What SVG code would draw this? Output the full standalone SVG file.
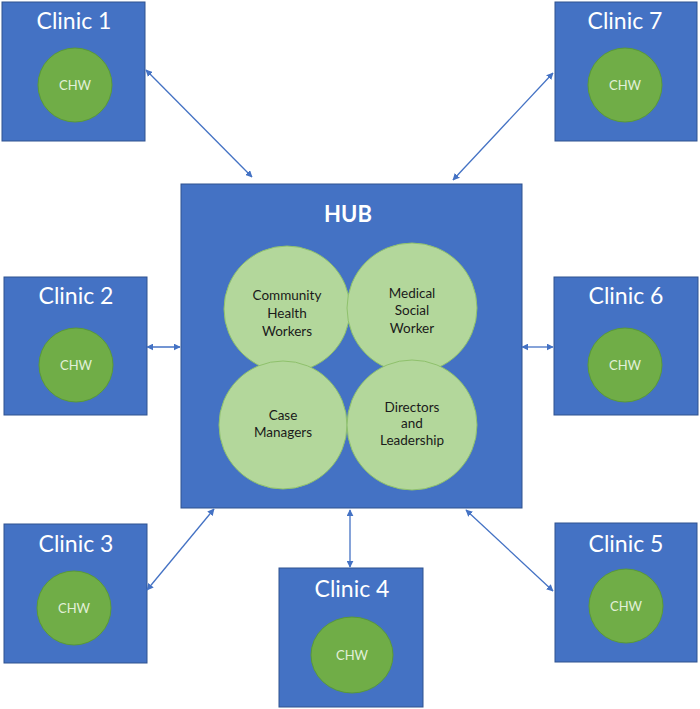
<svg xmlns="http://www.w3.org/2000/svg" width="700" height="709" viewBox="0 0 700 709">
<defs>
<style>
.box{fill:#4472c4;stroke:#2f528f;stroke-width:1}
.chw{fill:#70ad47;stroke:#5a9a37;stroke-width:1}
.hubc{fill:#b3d79b;stroke:#8fc16c;stroke-width:1}
.title{font-family:Lato,"Open Sans",sans-serif;font-size:23px;fill:#ffffff;text-anchor:middle}
.chwt{font-family:Lato,"Open Sans",sans-serif;font-size:13px;fill:#e2f0d9;text-anchor:middle}
.hubt{font-family:Lato,"Open Sans",sans-serif;font-size:22px;font-weight:bold;fill:#ffffff;text-anchor:middle}
.ct{font-family:Lato,"Open Sans",sans-serif;font-size:13.5px;fill:#1a1a1a;text-anchor:middle}
.con{stroke:#4472c4;stroke-width:1.3;fill:none;marker-start:url(#ah);marker-end:url(#ah)}
</style>
<marker id="ah" viewBox="0 0 10 10" refX="9" refY="5" markerWidth="7" markerHeight="7" orient="auto-start-reverse" markerUnits="userSpaceOnUse">
<path d="M0,0 L10,5 L0,10 z" fill="#4472c4"/>
</marker>
</defs>
<rect width="700" height="709" fill="#ffffff"/>
<g id="hub">
<rect class="box" x="181" y="184" width="341" height="324"/>
<text class="hubt" x="348" y="222">HUB</text>
<circle class="hubc" cx="287" cy="309" r="63"/>
<circle class="hubc" cx="412" cy="308" r="65"/>
<circle class="hubc" cx="283" cy="425" r="64"/>
<circle class="hubc" cx="412" cy="425" r="65"/>
<text class="ct" x="287" y="300">Community</text>
<text class="ct" x="287" y="318">Health</text>
<text class="ct" x="287" y="336">Workers</text>
<text class="ct" x="412" y="298">Medical</text>
<text class="ct" x="412" y="315">Social</text>
<text class="ct" x="412" y="333">Worker</text>
<text class="ct" x="283" y="420">Case</text>
<text class="ct" x="283" y="437">Managers</text>
<text class="ct" x="412" y="412">Directors</text>
<text class="ct" x="412" y="428">and</text>
<text class="ct" x="412" y="445">Leadership</text>
</g>
<g id="clinic1">
<rect class="box" x="2" y="2" width="143" height="139"/>
<text class="title" x="74" y="29">Clinic 1</text>
<circle class="chw" cx="75" cy="85" r="37"/>
<text class="chwt" x="75" y="90">CHW</text>
</g>
<g id="clinic2">
<rect class="box" x="4" y="277" width="143" height="138"/>
<text class="title" x="76" y="304">Clinic 2</text>
<circle class="chw" cx="76" cy="365" r="37"/>
<text class="chwt" x="76" y="370">CHW</text>
</g>
<g id="clinic3">
<rect class="box" x="4" y="524" width="143" height="139"/>
<text class="title" x="76" y="552">Clinic 3</text>
<circle class="chw" cx="74" cy="608" r="37"/>
<text class="chwt" x="74" y="613">CHW</text>
</g>
<g id="clinic4">
<rect class="box" x="279" y="568" width="144" height="139"/>
<text class="title" x="352" y="597">Clinic 4</text>
<ellipse class="chw" cx="352" cy="655" rx="41" ry="38"/>
<text class="chwt" x="352" y="660">CHW</text>
</g>
<g id="clinic5">
<rect class="box" x="555" y="523" width="142" height="139"/>
<text class="title" x="626" y="552">Clinic 5</text>
<circle class="chw" cx="626" cy="606" r="37"/>
<text class="chwt" x="626" y="611">CHW</text>
</g>
<g id="clinic6">
<rect class="box" x="554" y="277" width="144" height="138"/>
<text class="title" x="626" y="304">Clinic 6</text>
<circle class="chw" cx="625" cy="365" r="37"/>
<text class="chwt" x="625" y="370">CHW</text>
</g>
<g id="clinic7">
<rect class="box" x="555" y="2" width="142" height="139"/>
<text class="title" x="625" y="29">Clinic 7</text>
<circle class="chw" cx="625" cy="85" r="37"/>
<text class="chwt" x="625" y="90">CHW</text>
</g>
<g id="connectors">
<line class="con" x1="146" y1="70" x2="252" y2="177"/>
<line class="con" x1="147" y1="347" x2="180" y2="347"/>
<line class="con" x1="147" y1="590" x2="214" y2="509"/>
<line class="con" x1="350" y1="510" x2="350" y2="567"/>
<line class="con" x1="466" y1="510" x2="553" y2="591"/>
<line class="con" x1="522" y1="347" x2="553" y2="347"/>
<line class="con" x1="553" y1="73" x2="453" y2="180"/>
</g>
</svg>
